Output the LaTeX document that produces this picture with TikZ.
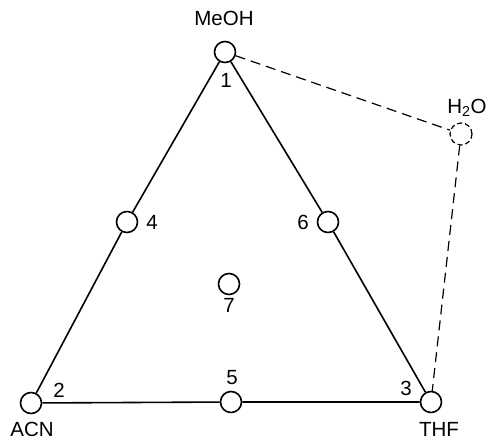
\documentclass[tikz,border=0pt]{standalone}
\usepackage{fontspec}
\setmainfont{Liberation Sans}
\begin{document}
\begin{tikzpicture}[x=1bp,y=-1bp,
  pt/.style={circle,draw,line width=1.6bp,minimum size=21bp,inner sep=0pt},
  ptd/.style={circle,draw,line width=1.2bp,dash pattern=on 5bp off 3bp,minimum size=22bp,inner sep=0pt},
  lbl/.style={inner sep=0pt,font=\fontsize{20.5bp}{24bp}\selectfont},
  edge/.style={line width=1.6bp},
  dedge/.style={line width=1.2bp,dash pattern=on 10bp off 6bp}]
\useasboundingbox (0,0) rectangle (487,439);
\node[pt] (n1) at (225,52) {};
\node[pt] (n2) at (31,403) {};
\node[pt] (n3) at (431,402) {};
\node[pt] (n4) at (127,222) {};
\node[pt] (n5) at (231,402) {};
\node[pt] (n6) at (328,222) {};
\node[pt] (n7) at (229,284) {};
\node[ptd] (h2o) at (461,134) {};
\draw[edge] (n1) -- (n4) -- (n2) -- (n5) -- (n3) -- (n6) -- (n1);
\draw[dedge] (n1) -- (h2o) -- (n3);
\node[lbl] (tMeOH) at (224,18) {MeOH};
\node[lbl] (t1) at (226,80) {1};
\node[lbl] (tH2O) at (467,108) {H\textsubscript{2}O};
\node[lbl] (t2) at (59,390) {2};
\node[lbl] (tACN) at (32,429) {ACN};
\node[lbl] (t3) at (406,388) {3};
\node[lbl] (tTHF) at (439,429) {THF};
\node[lbl] (t4) at (152,222) {4};
\node[lbl] (t6) at (303,222) {6};
\node[lbl] (t5) at (232,378) {5};
\node[lbl] (t7) at (229,305) {7};
\end{tikzpicture}
\end{document}
